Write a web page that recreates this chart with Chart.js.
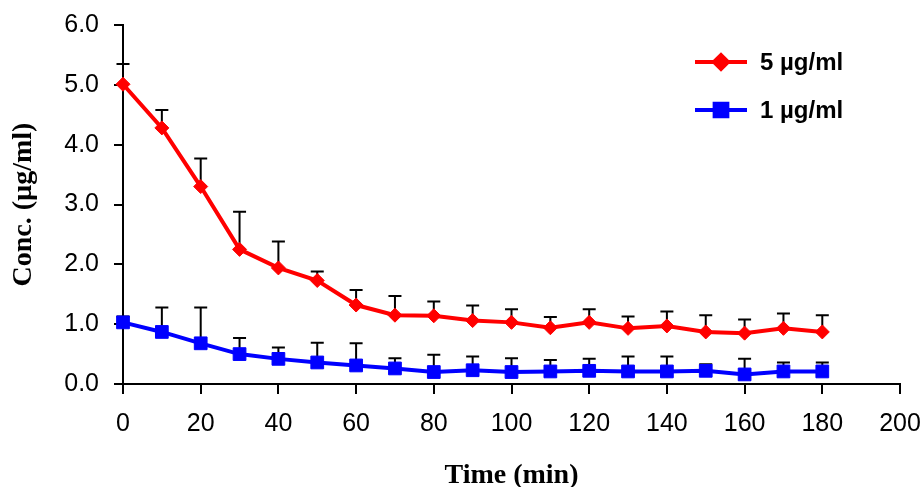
<!DOCTYPE html>
<html>
<head>
<meta charset="utf-8">
<script src="https://cdn.jsdelivr.net/npm/chart.js@4.4.0/dist/chart.umd.min.js"></script>
<style>
html,body{margin:0;padding:0;background:#fff;overflow:hidden}
canvas{display:block}
</style>
</head>
<body>
<canvas id="c" width="920" height="487" style="width:920px;height:487px"></canvas>
<script>
// ---- data ----
const timePoints = [0, 10, 20, 30, 40, 50, 60, 70, 80, 90, 100, 110, 120, 130, 140, 150, 160, 170, 180];
const seriesNames = ['5 µg/ml', '1 µg/ml'];
const conc5 = [5.01, 4.28, 3.30, 2.25, 1.94, 1.73, 1.32, 1.15, 1.14, 1.06, 1.03, 0.94, 1.03, 0.93, 0.97, 0.87, 0.85, 0.93, 0.87];
const sd5   = [0.34, 0.30, 0.47, 0.63, 0.44, 0.15, 0.25, 0.32, 0.24, 0.25, 0.22, 0.18, 0.22, 0.20, 0.24, 0.28, 0.23, 0.25, 0.28];
const conc1 = [1.03, 0.87, 0.68, 0.50, 0.42, 0.36, 0.31, 0.26, 0.20, 0.23, 0.20, 0.21, 0.22, 0.21, 0.21, 0.22, 0.16, 0.21, 0.21];
const sd1   = [0.10, 0.41, 0.60, 0.27, 0.19, 0.33, 0.37, 0.17, 0.29, 0.23, 0.23, 0.19, 0.20, 0.25, 0.25, 0.11, 0.26, 0.15, 0.15];
const yTicks = [0, 1, 2, 3, 4, 5, 6];
const xTicks = [0, 20, 40, 60, 80, 100, 120, 140, 160, 180, 200];
const xTitle = 'Time (min)';
const yTitle = 'Conc. (µg/ml)';

const toPoints = (ys) => timePoints.map((t, i) => ({ x: t, y: ys[i] }));

// error bars (upper SD) drawn through the chart scales
const errorBars = {
  id: 'errorBars',
  beforeDatasetsDraw(chart) {
    const ctx = chart.ctx, xs = chart.scales.x, ys = chart.scales.y;
    ctx.save();
    ctx.strokeStyle = '#000';
    ctx.lineWidth = 2;
    chart.data.datasets.forEach(ds => {
      ds.data.forEach((p, i) => {
        const x = xs.getPixelForValue(p.x);
        const y0 = ys.getPixelForValue(p.y);
        const y1 = ys.getPixelForValue(p.y + ds.errorUp[i]);
        ctx.beginPath();
        ctx.moveTo(x, y0); ctx.lineTo(x, y1);
        ctx.moveTo(x - 6.5, y1); ctx.lineTo(x + 6.5, y1);
        ctx.stroke();
      });
    });
    ctx.restore();
  }
};

// legend drawn inside the plot area (line + marker + label)
const lineLegend = {
  id: 'lineLegend',
  afterDraw(chart) {
    const ctx = chart.ctx;
    const rows = [62, 110];
    ctx.save();
    chart.data.datasets.forEach((ds, i) => {
      const y = rows[i];
      ctx.strokeStyle = ds.borderColor;
      ctx.lineWidth = 4;
      ctx.beginPath(); ctx.moveTo(695, y); ctx.lineTo(747, y); ctx.stroke();
      ctx.fillStyle = ds.pointBackgroundColor;
      ctx.strokeStyle = ds.pointBorderColor;
      Chart.helpers.drawPoint(ctx, { pointStyle: ds.pointStyle, radius: ds.pointRadius, rotation: 0, borderWidth: 1 }, 721, y);
      ctx.fillStyle = '#000';
      ctx.font = 'bold 24px "Liberation Sans", Arial, sans-serif';
      ctx.textAlign = 'left';
      ctx.textBaseline = 'middle';
      ctx.fillText(ds.label, 760, y + 1);
    });
    ctx.restore();
  }
};

const tickFont = { family: '"Liberation Sans", Arial, sans-serif', size: 25 };
const titleFont = { family: '"Liberation Serif", "Times New Roman", serif', size: 28, weight: 'bold' };

new Chart(document.getElementById('c'), {
  type: 'line',
  data: {
    datasets: [
      {
        label: seriesNames[0],
        data: toPoints(conc5),
        errorUp: sd5,
        borderColor: '#FF0000',
        backgroundColor: '#FF0000',
        pointBackgroundColor: '#FF0000',
        pointBorderColor: '#FF0000',
        pointStyle: 'rectRot',
        pointRadius: 7,
        pointBorderWidth: 1,
        borderWidth: 4,
        tension: 0,
        clip: false
      },
      {
        label: seriesNames[1],
        data: toPoints(conc1),
        errorUp: sd1,
        borderColor: '#0000FF',
        backgroundColor: '#0000FF',
        pointBackgroundColor: '#0000FF',
        pointBorderColor: '#0000FF',
        pointStyle: 'rect',
        pointRadius: 9,
        pointBorderWidth: 1,
        borderWidth: 4,
        tension: 0,
        clip: false
      }
    ]
  },
  options: {
    responsive: false,
    animation: false,
    events: [],
    layout: { padding: { top: 25, right: 20, left: 0, bottom: 0 } },
    plugins: {
      legend: { display: false },
      tooltip: { enabled: false },
      title: { display: false }
    },
    scales: {
      x: {
        type: 'linear',
        min: 0,
        max: 200,
        afterFit(scale) {
          scale.height = 103;
          scale.paddingLeft = 0;
          scale.paddingRight = 0;
        },
        afterBuildTicks(scale) { scale.ticks = xTicks.map(v => ({ value: v })); },
        ticks: {
          color: '#000',
          font: tickFont,
          padding: 15,
          maxRotation: 0,
          autoSkip: false
        },
        grid: { drawOnChartArea: false, drawTicks: true, tickLength: 10, color: '#000', lineWidth: 2 },
        border: { display: true, color: '#000', width: 2 },
        title: { display: true, text: xTitle, color: '#000', font: titleFont, padding: { top: 0, bottom: -6 } }
      },
      y: {
        type: 'linear',
        min: 0,
        max: 6,
        afterFit(scale) {
          scale.width = 123;
          scale.paddingTop = 0;
          scale.paddingBottom = 0;
        },
        afterBuildTicks(scale) { scale.ticks = yTicks.map(v => ({ value: v })); },
        ticks: {
          color: '#000',
          font: tickFont,
          padding: 15,
          callback: (v) => Number(v).toFixed(1)
        },
        grid: { drawOnChartArea: false, drawTicks: true, tickLength: 9, color: '#000', lineWidth: 2 },
        border: { display: true, color: '#000', width: 2 },
        title: { display: true, text: yTitle, color: '#000', font: titleFont, padding: { top: 7, bottom: 0 } }
      }
    }
  },
  plugins: [errorBars, lineLegend]
});
</script>
</body>
</html>
